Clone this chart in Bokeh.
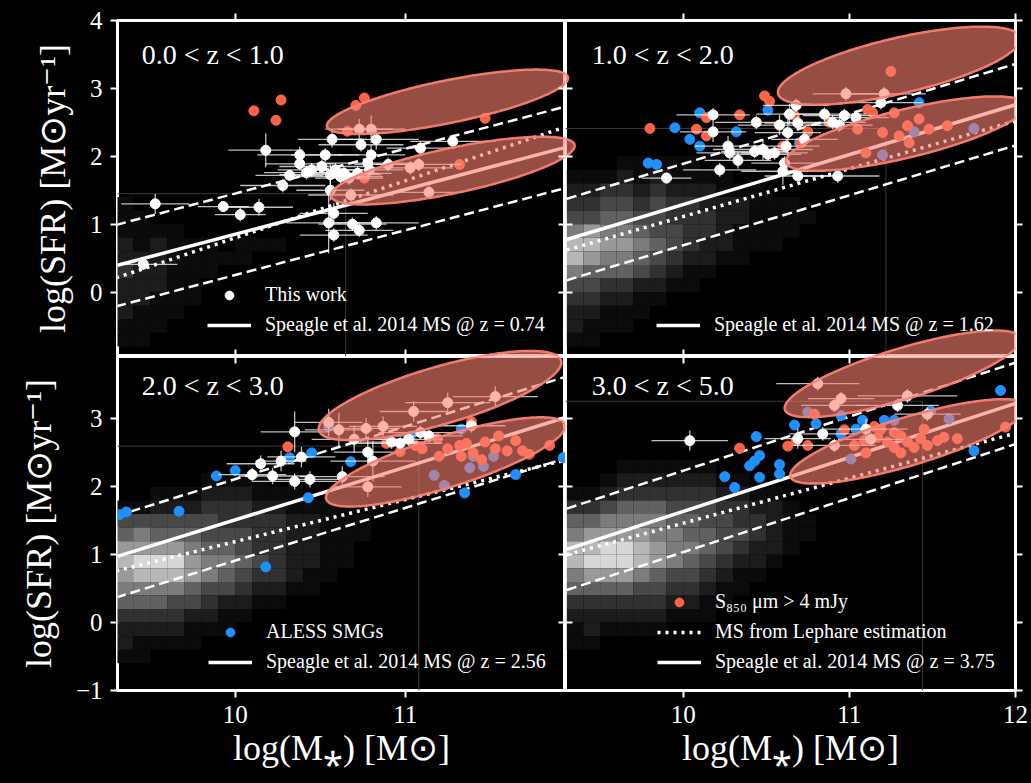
import numpy as np
from bokeh.plotting import figure
from bokeh.layouts import gridplot
from bokeh.models import Range1d, LinearAxis, FixedTicker, Legend, LegendItem, Label
from bokeh.embed import file_html
from bokeh.resources import INLINE

SERIF = "'Liberation Serif', 'Times New Roman', serif"

# ---------------- data ----------------
panel_titles = ["0.0 < z < 1.0", "1.0 < z < 2.0", "2.0 < z < 3.0", "3.0 < z < 5.0"]
speagle_z = ["0.74", "1.62", "2.56", "3.75"]
ms_x = [9.3, 12.0]
speagle_y = [[0.39, 2.17], [0.775, 2.76], [0.97, 3.065], [1.08, 3.23]]
lephare_y = [[0.21, 2.48], [0.62, 2.52], [0.76, 2.43], [1.0, 2.79]]
ms_scatter = 0.6

x_left_range = (9.308, 11.943)
x_right_range = (9.292, 12.0)
y_top_range = (-0.948, 4.0)
y_bottom_range = (-1.0, 3.92)
x_ticks = [10, 11, 12]
y_ticks = [-1, 0, 1, 2, 3, 4]

# faint outline of the histogram extent (vertical x, horizontal y)
hist_box_x = [10.65, 11.22, 11.08, 11.44]
hist_box_y = [1.45, 2.41, 2.60, 3.26]

# 2D histogram of the Lephare sample: x bins 9.3 + 0.1*i, y rows from 2.4 down (0.2 each)
hist_x0, hist_dx, hist_ytop, hist_dy = 9.3, 0.1, 2.4, 0.2
hist_tl = ["0000000000000000", "0000000000000000", "0000000000000000", "0000000000000000",
           "0000000000000000", "1000000000000000", "1100000000000000", "1111000000000000",
           "2121110111000000", "2221111100000000", "3221110000000000", "2221100000000000",
           "2211100000000000", "2111000000000000", "1110000000000000", "1100000000000000",
           "0000000000000000"]
hist_tr = ["0000000000000000", "0000000000000000", "0001111100000000", "1112121111000000",
           "2233232221110000", "3344343322211100", "4455443332211110", "6766544332111100",
           "8877654322111000", "8766543221100000", "6555432110000000", "4433221100000000",
           "3322110000000000", "2211100000000000", "2111000000000000", "1100000000000000",
           "0000000000000000"]
hist_bl = ["0000000000000000", "0000011110000000", "0011122211100000", "1122233322111100",
           "4444443333221110", "5655544433221110", "7777655433221100", "8999766543221100",
           "7888765433211000", "6666544322110000", "5554432211000000", "3333221100000000",
           "2222111000000000", "2111100000000000", "1100000000000000", "0000000000000000",
           "0000000000000000"]
hist_br = ["0001111110000000", "0012222221100000", "1123333332211000", "3345554443322100",
           "5566665544332110", "6777766554432110", "8899876654322100", "8999876543221000",
           "6777654432110000", "5555443321100000", "3333332211000000", "2222221110000000",
           "1211110000000000", "1100000000000000", "0000000000000000", "0000000000000000",
           "0000000000000000"]

# "This work" (white, with errors)
tl_white_x = [9.53, 9.46, 9.93, 10.03, 10.14, 10.18, 10.28, 10.32, 10.38, 10.38, 10.42, 10.45, 10.51,
              10.53, 10.56, 10.59, 10.62, 10.64, 10.56, 10.57, 10.74, 10.83, 10.80, 10.78, 10.79,
              10.72, 10.67, 10.58, 10.55, 10.58, 10.69, 10.73, 10.83, 11.09, 11.28, 10.90, 11.03,
              11.08, 11.14, 10.68, 10.80, 10.73]
tl_white_y = [1.30, 0.41, 1.26, 1.14, 1.25, 2.09, 1.57, 1.72, 2.02, 1.89, 1.76, 1.80, 1.85,
              2.02, 1.73, 1.80, 1.70, 1.75, 1.50, 2.25, 2.17, 2.25, 2.02, 1.90, 1.80,
              1.75, 1.68, 1.16, 1.02, 0.84, 1.00, 0.91, 1.02, 2.12, 2.22, 1.88, 1.83,
              1.88, 1.47, 1.43, 2.40, 2.40]
tl_white_xerr = [0.20, 0.20, 0.15, 0.15, 0.20, 0.22, 0.25, 0.20, 0.25, 0.20, 0.25, 0.20, 0.25,
                 0.20, 0.30, 0.20, 0.25, 0.20, 0.20, 0.20, 0.25, 0.25, 0.20, 0.30, 0.20,
                 0.20, 0.20, 0.20, 0.25, 0.20, 0.20, 0.20, 0.25, 0.20, 0.25, 0.20, 0.25,
                 0.25, 0.20, 0.25, 0.20, 0.20]
tl_white_yerr = [0.15, 0.08, 0.08, 0.10, 0.12, 0.25, 0.10, 0.08, 0.12, 0.10, 0.10, 0.10, 0.10,
                 0.10, 0.15, 0.10, 0.12, 0.10, 0.15, 0.12, 0.10, 0.15, 0.15, 0.20, 0.10,
                 0.10, 0.10, 0.15, 0.45, 0.10, 0.10, 0.10, 0.10, 0.10, 0.10, 0.10, 0.10,
                 0.10, 0.10, 0.10, 0.20, 0.15]
tl_red_x = [10.11, 10.27, 10.24, 10.71, 10.76, 11.47, 10.66, 10.76, 11.32]
tl_red_y = [2.67, 2.83, 2.53, 2.75, 2.86, 2.56, 2.37, 1.68, 1.88]
tl_blue_x = []
tl_blue_y = []

tr_white_x = [10.18, 10.18, 9.90, 10.22, 10.27, 10.28, 10.33, 10.44, 10.48, 10.51, 10.55, 10.58,
              10.64, 10.63, 10.69, 10.62, 10.61, 10.60, 10.73, 10.85, 10.90, 10.94, 10.97, 11.04,
              11.19, 10.98, 11.21, 10.68, 10.93, 10.69, 10.43]
tr_white_y = [2.61, 2.36, 1.68, 1.80, 2.15, 2.05, 1.94, 2.50, 2.10, 2.03, 2.05, 2.46,
              2.62, 2.35, 2.49, 2.15, 1.90, 1.78, 2.25, 2.62, 2.50, 2.46, 2.60, 2.57,
              2.79, 2.92, 2.92, 2.75, 1.71, 1.71, 2.07]
tr_white_xerr = [0.22, 0.20, 0.15, 0.22, 0.20, 0.20, 0.20, 0.25, 0.30, 0.20, 0.20, 0.25,
                 0.20, 0.20, 0.20, 0.20, 0.20, 0.25, 0.20, 0.25, 0.20, 0.20, 0.25, 0.20,
                 0.25, 0.20, 0.25, 0.20, 0.25, 0.20, 0.20]
tr_white_yerr = [0.10, 0.15, 0.08, 0.10, 0.15, 0.10, 0.12, 0.10, 0.15, 0.10, 0.10, 0.15,
                 0.15, 0.35, 0.10, 0.10, 0.10, 0.20, 0.10, 0.10, 0.10, 0.10, 0.10, 0.10,
                 0.10, 0.10, 0.10, 0.10, 0.10, 0.10, 0.10]
tr_red_x = [9.80, 10.14, 10.08, 10.14, 10.34, 10.49, 10.52, 10.67, 10.75, 10.88, 11.11, 11.14,
            11.25, 11.27, 10.60, 10.71, 11.35, 11.42, 11.48, 11.59, 11.36, 11.20, 11.05, 11.30, 11.10]
tr_red_y = [2.41, 2.57, 2.40, 2.30, 2.61, 2.89, 2.81, 2.60, 2.36, 2.50, 2.69, 2.64,
            3.25, 2.64, 2.15, 2.20, 2.45, 2.55, 2.40, 2.45, 2.20, 2.35, 2.40, 2.30, 2.05]
tr_blue_x = [10.10, 9.95, 10.32, 10.04, 10.10, 9.79, 9.84, 10.51, 11.42, 11.75, 11.39, 11.20, 10.70]
tr_blue_y = [2.64, 2.42, 2.36, 2.25, 2.15, 1.90, 1.88, 2.68, 2.79, 2.41, 2.36, 2.02, 2.20]

bl_white_x = [10.35, 10.15, 10.10, 10.22, 10.27, 10.39, 10.35, 10.44, 10.63, 10.78, 10.81, 10.92,
              10.97, 11.02, 11.09, 11.14, 11.39, 11.05, 11.25, 11.53, 10.87, 10.77, 10.61, 10.78,
              10.55, 10.70]
bl_white_y = [2.81, 2.34, 2.18, 2.16, 2.38, 2.44, 2.08, 2.11, 2.15, 2.51, 2.38, 2.66,
              2.64, 2.70, 2.80, 2.75, 2.90, 3.11, 3.24, 3.33, 2.89, 2.86, 2.84, 2.00,
              2.95, 2.70]
bl_white_xerr = [0.20, 0.20, 0.20, 0.20, 0.15, 0.20, 0.25, 0.20, 0.25, 0.20, 0.25, 0.20,
                 0.25, 0.20, 0.25, 0.20, 0.20, 0.20, 0.25, 0.25, 0.20, 0.20, 0.20, 0.20,
                 0.20, 0.25]
bl_white_yerr = [0.30, 0.12, 0.10, 0.12, 0.15, 0.15, 0.12, 0.12, 0.15, 0.20, 0.30, 0.10,
                 0.10, 0.10, 0.10, 0.10, 0.10, 0.15, 0.15, 0.15, 0.15, 0.15, 0.25, 0.15,
                 0.20, 0.20]
bl_red_x = [10.31, 10.89, 10.97, 11.14, 11.39, 11.73, 11.85, 11.06, 11.10, 11.19, 11.25, 11.32,
            11.36, 11.47, 11.53, 11.60, 11.65, 11.69, 11.40, 11.20, 11.55, 11.45, 11.33]
bl_red_y = [2.59, 2.64, 2.52, 2.74, 2.96, 2.48, 2.61, 2.61, 2.56, 2.71, 2.56, 2.61,
            2.64, 2.66, 2.56, 2.53, 2.68, 2.53, 2.50, 2.45, 2.75, 2.40, 2.45]
bl_blue_x = [9.32, 9.36, 9.67, 9.89, 10.00, 10.18, 10.32, 10.45, 10.43, 10.68, 10.55, 11.03,
             11.33, 11.35, 11.65, 11.93, 11.17, 11.23, 11.40, 11.46, 11.52, 11.38]
bl_blue_y = [1.59, 1.63, 1.64, 2.16, 2.24, 0.82, 2.43, 2.50, 1.84, 2.37, 2.89, 2.74,
             2.85, 1.91, 2.18, 2.43, 2.17, 2.02, 2.45, 2.30, 2.45, 2.28]

br_white_x = [10.04, 10.81, 10.69, 10.84, 10.91, 11.10, 11.29, 11.35, 10.95, 10.91, 11.47, 11.13]
br_white_y = [2.68, 3.52, 2.71, 2.78, 2.61, 2.85, 3.20, 3.34, 3.30, 3.20, 3.07, 2.70]
br_white_xerr = [0.23, 0.25, 0.20, 0.20, 0.25, 0.25, 0.25, 0.30, 0.20, 0.20, 0.20, 0.20]
br_white_yerr = [0.15, 0.10, 0.15, 0.10, 0.10, 0.15, 0.10, 0.10, 0.10, 0.10, 0.10, 0.10]
br_red_x = [10.34, 10.63, 10.68, 10.75, 10.97, 11.15, 11.94, 10.79, 11.03, 11.09, 11.17, 11.23,
            11.27, 11.31, 11.35, 11.39, 11.43, 11.47, 11.53, 11.57, 11.65, 11.27, 11.19, 11.31,
            11.10, 11.45]
br_red_y = [2.57, 2.60, 2.68, 2.61, 2.84, 2.89, 2.88, 3.07, 2.61, 2.68, 2.73, 2.66,
            2.58, 2.75, 2.66, 2.58, 2.71, 2.61, 2.68, 2.73, 2.71, 2.80, 2.85, 2.50,
            2.50, 2.85]
br_blue_x = [10.44, 10.25, 10.31, 10.40, 10.43, 10.46, 10.46, 10.58, 10.58, 10.67, 10.80, 10.95,
             11.04, 11.08, 11.21, 11.27, 11.91, 11.75, 11.49, 11.01, 10.75, 10.95, 11.30, 11.60]
br_blue_y = [2.74, 2.15, 1.99, 2.31, 2.38, 2.46, 2.14, 2.33, 2.19, 2.91, 2.93, 2.78,
             2.85, 2.98, 2.98, 2.98, 3.42, 2.53, 3.12, 2.41, 3.10, 3.05, 2.75, 3.00]

# ellipses: left tip, right tip, vertical half-chord at centre (upper, lower per panel)
ell_lx = [[10.554, 10.58], [10.60, 10.64], [10.53, 10.565], [10.64, 10.67]]
ell_ly = [[2.395, 1.36], [2.84, 1.85], [2.74, 1.75], [3.07, 2.09]]
ell_rx = [[11.944, 11.98], [12.0, 12.04], [11.88, 11.91], [12.0, 12.04]]
ell_ry = [[3.21, 2.22], [3.83, 2.82], [3.95, 2.985], [4.26, 3.25]]
ell_h = [[0.32, 0.34], [0.42, 0.365], [0.44, 0.395], [0.39, 0.37]]

white = [(tl_white_x, tl_white_y, tl_white_xerr, tl_white_yerr),
         (tr_white_x, tr_white_y, tr_white_xerr, tr_white_yerr),
         (bl_white_x, bl_white_y, bl_white_xerr, bl_white_yerr),
         (br_white_x, br_white_y, br_white_xerr, br_white_yerr)]
red = [(tl_red_x, tl_red_y), (tr_red_x, tr_red_y), (bl_red_x, bl_red_y), (br_red_x, br_red_y)]
blue = [(tl_blue_x, tl_blue_y), (tr_blue_x, tr_blue_y), (bl_blue_x, bl_blue_y), (br_blue_x, br_blue_y)]
hists = [hist_tl, hist_tr, hist_bl, hist_br]

# ---------------- layout ----------------
FRAME_W = {"left": 448, "right": 450}
FRAME_H = {"top": 336, "bottom": 334}
XR = {"left": x_left_range, "right": x_right_range}
YR = {"top": y_top_range, "bottom": y_bottom_range}
KX = {k: FRAME_W[k] / (XR[k][1] - XR[k][0]) for k in XR}
KY = {k: FRAME_H[k] / (YR[k][1] - YR[k][0]) for k in YR}

ELL_FILL = "#fa8072"
RED = "#ff6347"
BLUE = "#1e90ff"


def ellipse_poly(lx, ly, rx, ry, h, n=180):
    cx, cy = (lx + rx) / 2, (ly + ry) / 2
    vx, vy = (rx - lx) / 2, (ry - ly) / 2
    a = np.hypot(vx, vy)
    th = np.arctan2(vy, vx)
    s, c = np.sin(th), np.cos(th)
    b = c / np.sqrt(1 / h ** 2 - s ** 2 / a ** 2)
    t = np.linspace(0, 2 * np.pi, n)
    xs = cx + a * np.cos(t) * c - b * np.sin(t) * s
    ys = cy + a * np.cos(t) * s + b * np.sin(t) * c
    return xs, ys


def make_axis(ticks, show_labels, outward, label=None, overrides=None):
    ax = LinearAxis(ticker=FixedTicker(ticks=ticks))
    ax.axis_line_color = None
    ax.major_tick_line_color = "white"
    ax.major_tick_line_width = 2
    ax.minor_tick_line_color = None
    ax.major_tick_out = 7 if outward else 0
    ax.major_tick_in = 0 if outward else 7
    if show_labels:
        ax.major_label_text_font = SERIF
        ax.major_label_text_font_size = "25px"
        ax.major_label_text_color = "white"
        ax.major_label_standoff = 8
        if overrides:
            ax.major_label_overrides = overrides
    else:
        ax.major_label_text_font_size = "0px"
        ax.major_label_text_alpha = 0
        ax.major_label_standoff = 0
    if label:
        ax.axis_label = label
        ax.axis_label_text_font = SERIF
        ax.axis_label_text_font_size = "36px"
        ax.axis_label_text_font_style = "normal"
        ax.axis_label_text_color = "white"
    return ax


def ellipse_renderer(p, xs, ys):
    p.patch(xs, ys, fill_color=ELL_FILL, fill_alpha=0.6, line_color=ELL_FILL,
            line_alpha=0.95, line_width=2.5)


panel_pos = [("left", "top"), ("right", "top"), ("left", "bottom"), ("right", "bottom")]
figs = []
ell_polys = []
for i in range(4):
    ell_polys.append([ellipse_poly(ell_lx[i][j], ell_ly[i][j], ell_rx[i][j], ell_ry[i][j], ell_h[i][j])
                      for j in range(2)])

for i, (col, row) in enumerate(panel_pos):
    p = figure(frame_width=FRAME_W[col], frame_height=FRAME_H[row],
               x_range=Range1d(*XR[col]), y_range=Range1d(*YR[row]),
               output_backend="svg", toolbar_location=None,
               x_axis_location=None, y_axis_location=None,
               background_fill_color="black", border_fill_color="black",
               outline_line_color="white", outline_line_width=3,
               min_border_left=117 if col == "left" else 0,
               min_border_right=16 if col == "right" else 0,
               min_border_top=20 if row == "top" else 0,
               min_border_bottom=93 if row == "bottom" else 0)
    p.grid.visible = False
    p.styles = {"background-color": "black"}

    # axes (ticks on all sides)
    xlabel = "log(M\u204e) [M\u2299]"
    ylabel = "log(SFR) [M\u2299yr\u207b\u00b9]"
    if col == "left":
        lax = make_axis(y_ticks, True, True, ylabel, {-1: "\u22121"})
        lax.axis_label_standoff = 14
    else:
        lax = make_axis(y_ticks, False, False)
    p.add_layout(lax, "left")
    if col == "right":
        p.add_layout(make_axis(y_ticks, False, True), "right")
    else:
        p.add_layout(make_axis(y_ticks, False, False), "right")
    if row == "bottom":
        bax = make_axis(x_ticks, True, True, xlabel)
        bax.axis_label_standoff = 2
        p.add_layout(bax, "below")
        p.add_layout(make_axis(x_ticks, False, False), "above")
    else:
        p.add_layout(make_axis(x_ticks, False, True), "above")
        p.add_layout(make_axis(x_ticks, False, False), "below")

    # histogram
    L, R, T, B, C = [], [], [], [], []
    for r, line in enumerate(hists[i]):
        for c, ch in enumerate(line):
            lv = int(ch)
            if lv == 0:
                continue
            g = int(round(215 * (lv / 9) ** 1.35))
            L.append(hist_x0 + c * hist_dx)
            R.append(hist_x0 + (c + 1) * hist_dx)
            T.append(hist_ytop - r * hist_dy)
            B.append(hist_ytop - (r + 1) * hist_dy)
            C.append("#%02x%02x%02x" % (g, g, g))
    p.quad(left=L, right=R, top=T, bottom=B, fill_color=C, line_color=None)
    p.segment(x0=[hist_box_x[i], XR[col][0]], y0=[YR[row][0], hist_box_y[i]],
              x1=[hist_box_x[i], hist_box_x[i]], y1=[hist_box_y[i], hist_box_y[i]],
              line_color="#3a3a3a", line_width=1)

    # main-sequence lines
    sy = speagle_y[i]
    r_dot = p.line(ms_x, lephare_y[i], line_color="white", line_width=3.5, line_dash="3 5")
    p.line(ms_x, [v + ms_scatter for v in sy], line_color="white", line_width=2.5, line_dash="10 5")
    p.line(ms_x, [v - ms_scatter for v in sy], line_color="white", line_width=2.5, line_dash="10 5")
    r_sp = p.line(ms_x, sy, line_color="white", line_width=3.5)

    # points
    r_blue = p.scatter(blue[i][0], blue[i][1], size=10, fill_color=BLUE, line_color=BLUE)
    r_red = p.scatter(red[i][0], red[i][1], size=10, fill_color=RED, line_color=RED)
    wx, wy, wxe, wye = white[i]
    p.segment(x0=[x - e for x, e in zip(wx, wxe)], y0=wy, x1=[x + e for x, e in zip(wx, wxe)], y1=wy,
              line_color="white", line_alpha=0.75, line_width=1.3)
    p.segment(x0=wx, y0=[y - e for y, e in zip(wy, wye)], x1=wx, y1=[y + e for y, e in zip(wy, wye)],
              line_color="white", line_alpha=0.75, line_width=1.3)
    r_white = p.scatter(wx, wy, size=10, fill_color="white", line_color="white")

    # ellipses of this panel
    for xs, ys in ell_polys[i]:
        ellipse_renderer(p, xs, ys)

    # legend
    sp_label = "Speagle et al. 2014 MS @ z = " + speagle_z[i]
    if i == 0:
        items = [LegendItem(label="This work", renderers=[r_white]), LegendItem(label=sp_label, renderers=[r_sp])]
        loc = (90, 20)
    elif i == 1:
        items = [LegendItem(label=sp_label, renderers=[r_sp])]
        loc = (91, 20)
    elif i == 2:
        items = [LegendItem(label="ALESS SMGs", renderers=[r_blue]), LegendItem(label=sp_label, renderers=[r_sp])]
        loc = (91, 17)
    else:
        items = [LegendItem(label="S\u2088\u2085\u2080 \u03bcm > 4 mJy", renderers=[r_red]),
                 LegendItem(label="MS from Lephare estimation", renderers=[r_dot]),
                 LegendItem(label=sp_label, renderers=[r_sp])]
        loc = (92, 17)
    leg = Legend(items=items, location=loc, label_text_font=SERIF, label_text_font_size="20px",
                 label_text_color="white", glyph_width=44, glyph_height=22, label_height=22,
                 label_standoff=14, spacing=7, padding=0, margin=0,
                 background_fill_alpha=0, border_line_color=None)
    p.add_layout(leg)

    p.add_layout(Label(x=9.45, y=3.5, text=panel_titles[i], text_font=SERIF, text_font_size="28px",
                       text_color="white", text_baseline="alphabetic"))
    figs.append(p)

# ellipse parts reaching into neighbouring panels (drawn unclipped in the reference)
def to_right(xs):
    return XR["right"][0] + (np.asarray(xs) - XR["left"][1]) * KX["left"] / KX["right"]


def to_top(ys):
    return YR["top"][0] + (np.asarray(ys) - YR["bottom"][1]) * KY["bottom"] / KY["top"]


for j in range(2):
    xs, ys = ell_polys[0][j]
    ellipse_renderer(figs[1], to_right(xs), ys)
    xs, ys = ell_polys[2][j]
    ellipse_renderer(figs[3], to_right(xs), ys)
    ellipse_renderer(figs[0], xs, to_top(ys))
    xs, ys = ell_polys[3][j]
    ellipse_renderer(figs[1], xs, to_top(ys))

grid = gridplot([[figs[0], figs[1]], [figs[2], figs[3]]], toolbar_location=None)
grid.styles = {"background-color": "black"}
open("out.html", "w").write(file_html(grid, INLINE))
